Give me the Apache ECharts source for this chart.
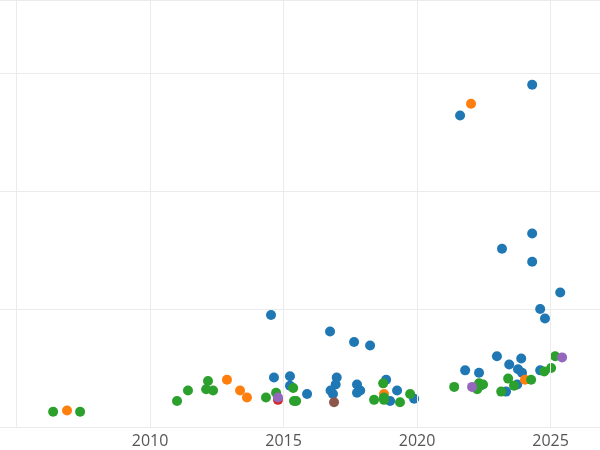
<!DOCTYPE html>
<html>
<head>
<meta charset="utf-8">
<script src="https://cdn.jsdelivr.net/npm/echarts@6/dist/echarts.min.js"></script>
<style>html,body{margin:0;padding:0;background:#fff}#chart{width:600px;height:450px}</style>
</head>
<body>
<div id="chart"></div>
<script>
// [year, value] pairs per colour group
const blueData = [
  [2024.31, 2.90], [2021.61, 2.64], [2024.31, 1.64], [2023.18, 1.51], [2024.31, 1.40],
  [2025.36, 1.14], [2024.61, 1.00], [2024.79, 0.92], [2014.53, 0.95], [2016.74, 0.81],
  [2017.64, 0.72], [2018.24, 0.69], [2014.64, 0.42], [2015.24, 0.43], [2015.24, 0.35],
  [2015.88, 0.28], [2016.99, 0.42], [2016.95, 0.36], [2016.76, 0.31], [2016.85, 0.28],
  [2017.75, 0.36], [2017.87, 0.31], [2017.75, 0.29], [2018.84, 0.40], [2018.99, 0.22],
  [2019.25, 0.31], [2019.89, 0.24], [2021.80, 0.48], [2022.32, 0.46], [2022.99, 0.60],
  [2023.45, 0.53], [2023.90, 0.58], [2023.78, 0.49], [2023.93, 0.46], [2023.33, 0.30],
  [2024.61, 0.48], [2023.75, 0.36], [2022.36, 0.35]
];
const orangeData = [
  [2022.02, 2.74], [2006.89, 0.14], [2012.88, 0.40], [2013.37, 0.31], [2013.63, 0.25],
  [2018.76, 0.28], [2024.04, 0.40]
];
const greenData = [
  [2006.37, 0.13], [2007.38, 0.13], [2011.01, 0.22], [2011.42, 0.31], [2012.17, 0.39],
  [2012.10, 0.32], [2012.36, 0.31], [2014.34, 0.25], [2014.72, 0.29], [2015.36, 0.33],
  [2015.39, 0.22], [2015.47, 0.22], [2018.39, 0.23], [2018.73, 0.37], [2018.76, 0.25],
  [2018.76, 0.23], [2019.36, 0.21], [2019.74, 0.28], [2021.39, 0.34], [2022.25, 0.32],
  [2022.32, 0.37], [2022.47, 0.36], [2023.15, 0.30], [2023.41, 0.41], [2023.63, 0.35],
  [2024.27, 0.40], [2024.76, 0.47], [2025.02, 0.50], [2025.17, 0.60]
];
const redData = [[2014.79, 0.23]];
const purpleData = [[2014.79, 0.25], [2022.06, 0.34], [2025.43, 0.59]];
const brownData = [[2016.89, 0.21]];
const xTicks = [2005, 2010, 2015, 2020, 2025];
const xLabels = [2010, 2015, 2020, 2025];

const groups = [
  { data: blueData, color: '#1f77b4' },
  { data: orangeData, color: '#ff7f0e' },
  { data: greenData, color: '#2ca02c' },
  { data: redData, color: '#d62728' },
  { data: purpleData, color: '#9467bd' },
  { data: brownData, color: '#8c564b' }
];

const series = groups.map(g => ({
  type: 'scatter', data: g.data, symbolSize: 10, z: 3,
  itemStyle: { color: g.color, opacity: 1 }
}));
// vertical grid lines
series.unshift({
  type: 'scatter', data: [], z: 1,
  markLine: {
    silent: true, symbol: 'none', label: { show: false },
    lineStyle: { color: '#ebebeb', type: 'solid', width: 1 },
    data: xTicks.map(v => ({ xAxis: v }))
  }
});

const chart = echarts.init(document.getElementById('chart'));
chart.setOption({
  backgroundColor: '#fff',
  animation: false,
  grid: { left: 0, right: 0, top: 0, bottom: 23, containLabel: false },
  xAxis: {
    type: 'value', min: 2004.38, max: 2026.85,
    axisLine: { show: false }, axisTick: { show: false },
    axisLabel: {
      color: '#555', fontSize: 16, margin: 6, fontFamily: 'Open Sans',
      customValues: xLabels, formatter: v => String(v)
    },
    splitLine: { show: false }
  },
  yAxis: {
    type: 'value', min: 0, max: 3.619, interval: 1,
    axisLine: { show: false }, axisTick: { show: false }, axisLabel: { show: false },
    splitLine: { lineStyle: { color: '#ebebeb' } }
  },
  series
});
</script>
</body>
</html>
